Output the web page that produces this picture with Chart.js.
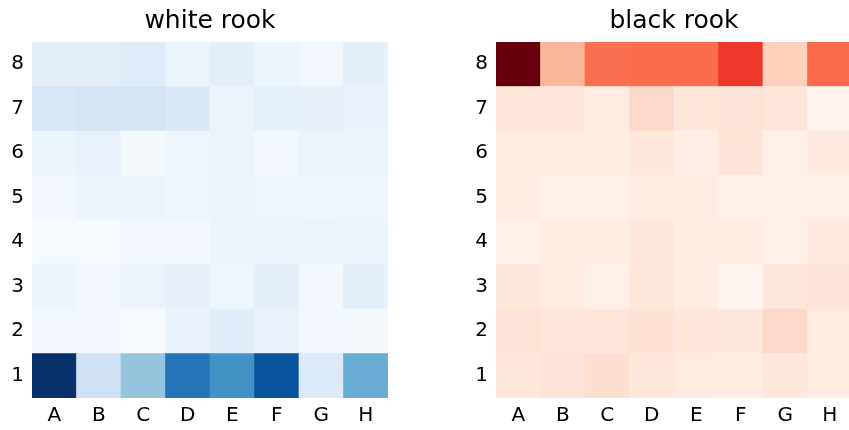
<!DOCTYPE html>
<html>
<head>
<meta charset="utf-8">
<script src="https://cdn.jsdelivr.net/npm/chart.js@4"></script>
<style>
  html, body { margin: 0; padding: 0; background: #fff; overflow: hidden; width: 849px; height: 430px; }
  canvas { position: absolute; top: 0; }
  #white { left: 0; }
  #black { left: 425px; }
</style>
</head>
<body>
<canvas id="white" width="420" height="430"></canvas>
<canvas id="black" width="460" height="430"></canvas>
<script>
// files along the bottom, ranks up the side (index 0 = rank 1)
const files = ['A', 'B', 'C', 'D', 'E', 'F', 'G', 'H'];
const ranks = ['1', '2', '3', '4', '5', '6', '7', '8'];

// white rook, one row per rank (1 -> 8)
const whiteRook = [
  [1.00, 0.21, 0.40, 0.74, 0.63, 0.87, 0.14, 0.51],
  [0.04, 0.04, 0.01, 0.075, 0.12, 0.08, 0.04, 0.025],
  [0.06, 0.035, 0.065, 0.085, 0.055, 0.10, 0.03, 0.10],
  [0.02, 0.01, 0.04, 0.03, 0.06, 0.06, 0.065, 0.06],
  [0.035, 0.06, 0.07, 0.055, 0.065, 0.055, 0.055, 0.055],
  [0.06, 0.08, 0.025, 0.055, 0.07, 0.035, 0.065, 0.06],
  [0.167, 0.18, 0.18, 0.146, 0.065, 0.095, 0.085, 0.075],
  [0.10, 0.10, 0.125, 0.065, 0.11, 0.06, 0.04, 0.105]
];

// black rook, one row per rank (1 -> 8)
const blackRook = [
  [0.077, 0.107, 0.125, 0.077, 0.06, 0.048, 0.083, 0.054],
  [0.107, 0.09, 0.09, 0.113, 0.09, 0.077, 0.149, 0.06],
  [0.077, 0.06, 0.03, 0.077, 0.048, 0.0, 0.083, 0.095],
  [0.024, 0.048, 0.048, 0.077, 0.048, 0.054, 0.024, 0.065],
  [0.048, 0.03, 0.03, 0.048, 0.048, 0.03, 0.03, 0.03],
  [0.048, 0.048, 0.048, 0.077, 0.042, 0.095, 0.03, 0.065],
  [0.09, 0.09, 0.06, 0.149, 0.09, 0.107, 0.09, 0.012],
  [1.00, 0.265, 0.48, 0.49, 0.49, 0.635, 0.176, 0.50]
];

// colorbrewer anchors (same as matplotlib Blues / Reds)
const blues = ['#f7fbff', '#deebf7', '#c6dbef', '#9ecae1', '#6baed6', '#4292c6', '#2171b5', '#08519c', '#08306b'];
const reds = ['#fff5f0', '#fee0d2', '#fcbba1', '#fc9272', '#fb6a4a', '#ef3b2c', '#cb181d', '#a50f15', '#67000d'];

function hexToRgb(h) {
  return [parseInt(h.slice(1, 3), 16), parseInt(h.slice(3, 5), 16), parseInt(h.slice(5, 7), 16)];
}

function colormap(anchors, t) {
  t = Math.max(0, Math.min(1, t));
  const pos = t * (anchors.length - 1);
  const i = Math.min(Math.floor(pos), anchors.length - 2);
  const f = pos - i;
  const a = hexToRgb(anchors[i]), b = hexToRgb(anchors[i + 1]);
  const c = a.map((v, k) => Math.round(v + (b[k] - v) * f));
  return `rgb(${c[0]},${c[1]},${c[2]})`;
}

function makeHeatmap(canvasId, title, grid, anchors, yAxisWidth, rightPad) {
  const flat = grid.flat();
  const vmin = Math.min(...flat), vmax = Math.max(...flat);

  // one stacked dataset per rank, each cell has height 1
  const datasets = ranks.map((r, ri) => ({
    label: r,
    data: files.map(() => 1),
    backgroundColor: grid[ri].map(v => colormap(anchors, (v - vmin) / (vmax - vmin))),
    borderWidth: 0,
    categoryPercentage: 1.0,
    barPercentage: 1.0
  }));

  new Chart(document.getElementById(canvasId), {
    type: 'bar',
    data: { labels: files, datasets: datasets },
    options: {
      responsive: false,
      animation: false,
      layout: { padding: { left: 0, right: rightPad, top: 0, bottom: 0 } },
      scales: {
        x: {
          stacked: true,
          grid: { display: false, drawTicks: false },
          border: { display: false },
          ticks: { color: '#000', font: { family: 'DejaVu Sans', size: 20 }, padding: 6 },
          afterFit: s => { s.height = 32; }
        },
        y: {
          stacked: true,
          min: 0,
          max: 8,
          grid: { display: false, drawTicks: false },
          border: { display: false },
          afterBuildTicks: s => { s.ticks = ranks.map((r, i) => ({ value: i + 0.5 })); },
          ticks: {
            color: '#000',
            font: { family: 'DejaVu Sans', size: 20 },
            padding: 8,
            callback: (v, i) => ranks[i]
          },
          afterFit: s => { s.width = yAxisWidth; }
        }
      },
      plugins: {
        legend: { display: false },
        tooltip: { enabled: false },
        title: {
          display: true,
          text: title,
          fullSize: false,
          color: '#000',
          font: { family: 'DejaVu Sans', size: 25, weight: 'normal' },
          padding: { top: 6, bottom: 6 }
        }
      }
    }
  });
}

makeHeatmap('white', 'white rook', whiteRook, blues, 32, 32);
makeHeatmap('black', 'black rook', blackRook, reds, 71, 33);
</script>
</body>
</html>
